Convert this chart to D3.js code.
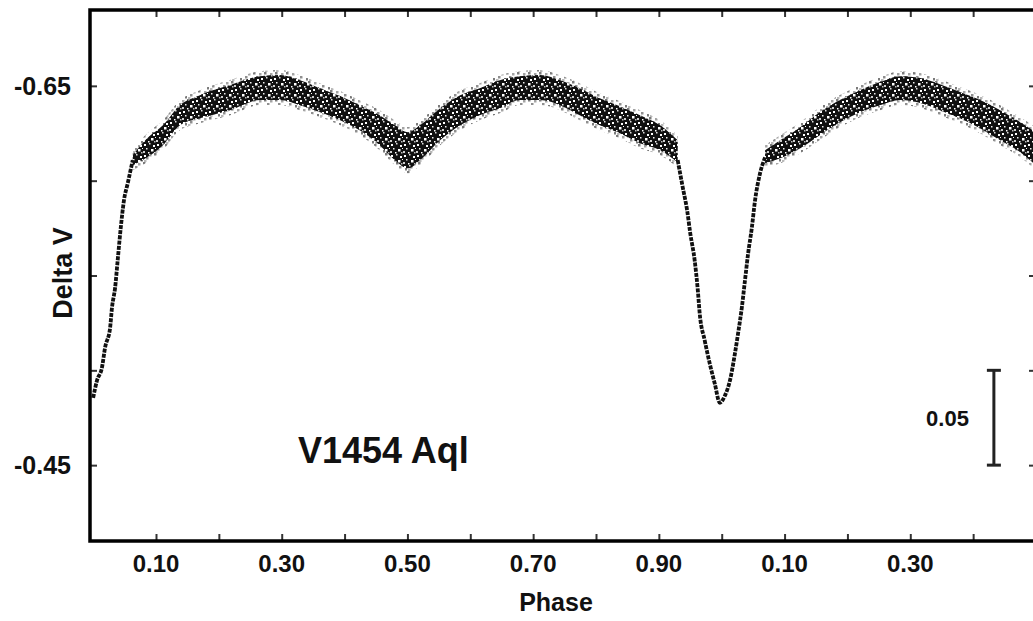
<!DOCTYPE html>
<html>
<head>
<meta charset="utf-8">
<script src="https://cdnjs.cloudflare.com/ajax/libs/d3/7.8.5/d3.min.js"></script>
<style>
body { margin: 0; background: #fff; }
svg { display: block; }
text { font-family: "Liberation Sans", Arial, sans-serif; font-weight: bold; fill: #111; }
</style>
</head>
<body>
<div id="plot"></div>
<script>

// primary eclipse, first cycle (narrow branch)
var eclipse1Phase = [0.000, 0.006, 0.014, 0.019, 0.027, 0.030, 0.035, 0.039, 0.044, 0.049, 0.055, 0.063];
var eclipse1Mag = [-0.4855, -0.4945, -0.5014, -0.5120, -0.5225, -0.5331, -0.5437, -0.5579, -0.5754, -0.5896, -0.5986, -0.6108];

// out-of-eclipse band, first cycle: bright and faint edge of the scatter
var band1Phase = [0.063, 0.086, 0.111, 0.138, 0.170, 0.218, 0.265, 0.297, 0.329, 0.361, 0.393, 0.424, 0.456, 0.480, 0.501, 0.520, 0.552, 0.584, 0.615, 0.647, 0.679, 0.711, 0.743, 0.774, 0.806, 0.838, 0.870, 0.902, 0.930];
var band1Bright = [-0.6134, -0.6224, -0.6292, -0.6398, -0.6451, -0.6504, -0.6551, -0.6557, -0.6530, -0.6488, -0.6446, -0.6398, -0.6345, -0.6292, -0.6255, -0.6292, -0.6382, -0.6451, -0.6488, -0.6530, -0.6551, -0.6557, -0.6530, -0.6488, -0.6435, -0.6393, -0.6345, -0.6292, -0.6213];
var band1Faint = [-0.6081, -0.6123, -0.6187, -0.6292, -0.6329, -0.6372, -0.6425, -0.6425, -0.6398, -0.6361, -0.6319, -0.6266, -0.6187, -0.6108, -0.6065, -0.6108, -0.6213, -0.6292, -0.6345, -0.6382, -0.6425, -0.6425, -0.6398, -0.6345, -0.6292, -0.6250, -0.6197, -0.6160, -0.6097];

// primary eclipse, second cycle
var eclipse2Phase = [0.930, 0.938, 0.945, 0.950, 0.957, 0.962, 0.965, 0.973, 0.981, 0.989, 0.997, 1.005, 1.013, 1.021, 1.026, 1.032, 1.037, 1.042, 1.048, 1.053, 1.061, 1.069];
var eclipse2Mag = [-0.6108, -0.5965, -0.5843, -0.5722, -0.5579, -0.5421, -0.5299, -0.5157, -0.5035, -0.4929, -0.4829, -0.4866, -0.4945, -0.5088, -0.5194, -0.5331, -0.5474, -0.5616, -0.5754, -0.5896, -0.6039, -0.6123];

// out-of-eclipse band, second cycle
var band2Phase = [1.069, 1.093, 1.125, 1.156, 1.188, 1.220, 1.252, 1.284, 1.316, 1.347, 1.379, 1.411, 1.443, 1.475, 1.500];
var band2Bright = [-0.6160, -0.6213, -0.6282, -0.6361, -0.6425, -0.6477, -0.6520, -0.6551, -0.6541, -0.6509, -0.6467, -0.6425, -0.6372, -0.6308, -0.6255];
var band2Faint = [-0.6092, -0.6118, -0.6171, -0.6240, -0.6308, -0.6361, -0.6398, -0.6425, -0.6409, -0.6372, -0.6329, -0.6277, -0.6213, -0.6150, -0.6081];

var xTicks = [0.1, 0.2, 0.3, 0.4, 0.5, 0.6, 0.7, 0.8, 0.9, 1.0, 1.1, 1.2, 1.3, 1.4];
var xLabelTicks = [0.1, 0.3, 0.5, 0.7, 0.9, 1.1, 1.3];
var yTicks = [-0.65, -0.60, -0.55, -0.50, -0.45];
var yLabelTicks = [-0.65, -0.45];
var scaleBarMag = [-0.50, -0.45];
var scaleBarPhase = 1.433;

var width = 1033, height = 621;
var plotLeft = 90, plotRight = 1036, plotTop = 10, plotBottom = 541;

var svg = d3.select("#plot").append("svg").attr("width", width).attr("height", height);

var xScale = d3.scaleLinear().domain([-0.005, 1.5]).range([plotLeft, plotRight]);
var yScale = d3.scaleLinear().domain([-0.69, -0.41]).range([plotTop, plotBottom]);

// speckle textures that stand in for the dense cloud of observations
var defs = svg.append("defs");
var pat = defs.append("pattern").attr("id", "speckle")
	.attr("patternUnits", "userSpaceOnUse").attr("width", 13).attr("height", 11);
pat.append("rect").attr("width", 13).attr("height", 11).attr("fill", "#101010");
var flecks = [[1, 1, 2, "#fff"], [6, 0, 1.5, "#ddd"], [10, 2, 2, "#fff"], [3, 5, 1.5, "#eee"],
	[8, 6, 2.5, "#fff"], [0, 8, 2, "#ccc"], [5, 9, 1.5, "#fff"], [11, 9, 1.5, "#bbb"], [12, 5, 1, "#fff"]];
flecks.forEach(function (h) {
	pat.append("rect").attr("x", h[0]).attr("y", h[1]).attr("width", h[2]).attr("height", h[2]).attr("fill", h[3]);
});
var halo = defs.append("pattern").attr("id", "halo")
	.attr("patternUnits", "userSpaceOnUse").attr("width", 11).attr("height", 9);
[[0, 0, "#222"], [6, 1, "#666"], [3, 4, "#444"], [9, 6, "#222"], [1, 7, "#888"]].forEach(function (h) {
	halo.append("rect").attr("x", h[0]).attr("y", h[1]).attr("width", 2.5).attr("height", 2.5).attr("fill", h[2]);
});

var clip = defs.append("clipPath").attr("id", "clip");
clip.append("rect").attr("x", plotLeft).attr("y", plotTop)
	.attr("width", plotRight - plotLeft).attr("height", plotBottom - plotTop);

var g = svg.append("g").attr("clip-path", "url(#clip)");

function bandRows(ph, br, fa) {
	return ph.map(function (p, i) { return { p: p, b: br[i], f: fa[i] }; });
}
function lineRows(ph, mag) {
	return ph.map(function (p, i) { return { p: p, m: mag[i] }; });
}

var haloArea = d3.area()
	.x(function (d) { return xScale(d.p); })
	.y0(function (d) { return yScale(d.f) + 5; })
	.y1(function (d) { return yScale(d.b) - 5; })
	.curve(d3.curveMonotoneX);

var bandArea = d3.area()
	.x(function (d) { return xScale(d.p); })
	.y0(function (d) { return yScale(d.f); })
	.y1(function (d) { return yScale(d.b); })
	.curve(d3.curveMonotoneX);

var branch = d3.line()
	.x(function (d) { return xScale(d.p); })
	.y(function (d) { return yScale(d.m); })
	.curve(d3.curveMonotoneX);

var bands = [bandRows(band1Phase, band1Bright, band1Faint), bandRows(band2Phase, band2Bright, band2Faint)];
var branches = [lineRows(eclipse1Phase, eclipse1Mag), lineRows(eclipse2Phase, eclipse2Mag)];

g.selectAll(".halo").data(bands).enter().append("path")
	.attr("class", "halo").attr("d", haloArea).attr("fill", "url(#halo)").attr("opacity", 0.6);

g.selectAll(".band").data(bands).enter().append("path")
	.attr("class", "band").attr("d", bandArea).attr("fill", "url(#speckle)");

g.selectAll(".branch").data(branches).enter().append("path")
	.attr("class", "branch").attr("d", branch)
	.attr("fill", "none").attr("stroke", "#111").attr("stroke-width", 3.8)
	.attr("stroke-dasharray", "4,1.2");

// frame ticks, all pointing inward
var tickLen = 7;
var tickColor = "#333";
function styleTicks(a) {
	a.select(".domain").remove();
	a.selectAll("line").attr("stroke", tickColor).attr("stroke-width", 2);
}
svg.append("g").attr("transform", "translate(0," + plotBottom + ")")
	.call(d3.axisBottom(xScale).tickValues(xTicks).tickSize(-tickLen).tickFormat("")).call(styleTicks);
svg.append("g").attr("transform", "translate(0," + plotTop + ")")
	.call(d3.axisTop(xScale).tickValues(xTicks).tickSize(-tickLen).tickFormat("")).call(styleTicks);
svg.append("g").attr("transform", "translate(" + plotLeft + ",0)")
	.call(d3.axisLeft(yScale).tickValues(yTicks).tickSize(-tickLen).tickFormat("")).call(styleTicks);
svg.append("g").attr("transform", "translate(" + plotRight + ",0)")
	.call(d3.axisRight(yScale).tickValues(yTicks).tickSize(-tickLen).tickFormat("")).call(styleTicks);

// frame
svg.append("rect").attr("x", plotLeft).attr("y", plotTop)
	.attr("width", plotRight - plotLeft).attr("height", plotBottom - plotTop)
	.attr("fill", "none").attr("stroke", "#000").attr("stroke-width", 3.5);

// tick labels (phase wraps after 1.0)
svg.selectAll(".xlab").data(xLabelTicks).enter().append("text")
	.attr("class", "xlab")
	.attr("x", function (d) { return xScale(d); })
	.attr("y", 572)
	.attr("text-anchor", "middle")
	.style("font-size", "24px")
	.text(function (d) { return (Math.round(d * 100) % 100 / 100).toFixed(2); });

svg.selectAll(".ylab").data(yLabelTicks).enter().append("text")
	.attr("class", "ylab")
	.attr("x", 71)
	.attr("y", function (d) { return yScale(d) + 9; })
	.attr("text-anchor", "end")
	.style("font-size", "25px")
	.text(function (d) { return d.toFixed(2); });

// axis titles
svg.append("text").attr("x", 556).attr("y", 611).attr("text-anchor", "middle")
	.style("font-size", "25px").text("Phase");
svg.append("text").attr("transform", "translate(72,273) rotate(-90)").attr("text-anchor", "middle")
	.style("font-size", "27px").text("Delta V");

// star name
svg.append("text").attr("x", 298).attr("y", 463).style("font-size", "36px").text("V1454 Aql");

// 0.05 mag scale bar
var barX = xScale(scaleBarPhase);
svg.append("line").attr("x1", barX).attr("x2", barX)
	.attr("y1", yScale(scaleBarMag[0])).attr("y2", yScale(scaleBarMag[1]))
	.attr("stroke", "#222").attr("stroke-width", 3);
svg.selectAll(".serif").data(scaleBarMag).enter().append("line")
	.attr("x1", barX - 7).attr("x2", barX + 7)
	.attr("y1", function (d) { return yScale(d); }).attr("y2", function (d) { return yScale(d); })
	.attr("stroke", "#222").attr("stroke-width", 3);
svg.append("text").attr("x", barX - 25).attr("y", (yScale(scaleBarMag[0]) + yScale(scaleBarMag[1])) / 2 + 8)
	.attr("text-anchor", "end").style("font-size", "22px")
	.text((scaleBarMag[1] - scaleBarMag[0]).toFixed(2));

</script>
</body>
</html>
